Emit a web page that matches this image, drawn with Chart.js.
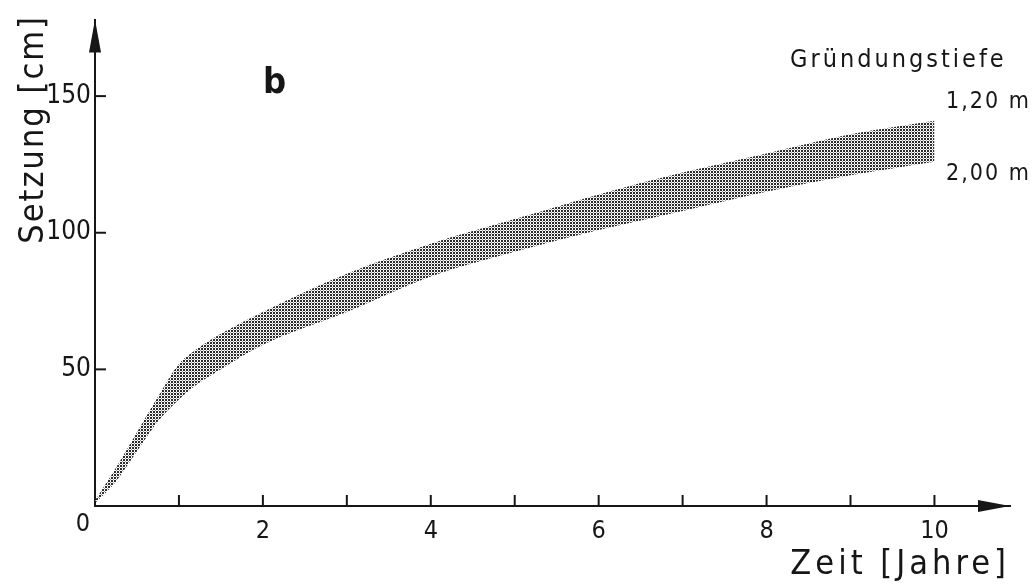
<!DOCTYPE html>
<html>
<head>
<meta charset="utf-8">
<script src="https://cdn.jsdelivr.net/npm/chart.js@4/dist/chart.umd.min.js"></script>
<style>
  html, body { margin: 0; padding: 0; background: #fff; }
  #wrap { width: 1034px; height: 584px; }
</style>
</head>
<body>
<div id="wrap"><canvas id="chart"></canvas></div>
<script>
// Zeit [Jahre]
const years = [0, 0.25, 0.5, 0.75, 1, 1.15, 1.5, 2, 3, 4, 5, 6, 7, 8, 9, 10];
// Setzung [cm] bei Gründungstiefe 1,20 m (obere Kante) und 2,00 m (untere Kante)
const setzung120 = [2, 14, 27, 40, 52, 56, 63, 71, 85, 96, 105, 114, 122, 129, 136, 141];
const setzung200 = [1, 9, 20, 31, 39, 43, 50, 59, 71, 84, 93, 101, 108, 115, 121, 126];
const xTicks = [0, 1, 2, 3, 4, 5, 6, 7, 8, 9, 10];
const xTickLabels = ['', '', '2', '', '4', '', '6', '', '8', '', '10'];
const yTicks = [0, 50, 100, 150];
const yTickLabels = ['', '50', '100', '150'];

const FONT = "'DejaVu Sans Condensed', 'DejaVu Sans', sans-serif";
const INK = '#161616';

function dotPattern() {
    const pc = document.createElement('canvas');
    pc.width = 3;
    pc.height = 3;
    const p = pc.getContext('2d');
    p.fillStyle = '#2a2a2a';
    p.fillRect(0, 0, 2, 2);
    p.fillStyle = '#9a9a9a';
    p.fillRect(2, 2, 1, 1);
    return p.createPattern(pc, 'repeat');
}

function spacedText(ctx, text, x, y, spacing) {
    ctx.letterSpacing = spacing + 'px';
    ctx.fillText(text, x, y);
    ctx.letterSpacing = '0px';
}

const decorations = {
    id: 'decorations',
    afterDraw(chart) {
        const { ctx, chartArea, scales } = chart;
        const xs = scales.x;
        const ys = scales.y;
        const x0 = xs.getPixelForValue(0);
        const y0 = ys.getPixelForValue(0);
        ctx.save();
        ctx.strokeStyle = INK;
        ctx.fillStyle = INK;
        ctx.lineWidth = 2;

        // inward tick marks
        xTicks.slice(1).forEach((v) => {
            const px = xs.getPixelForValue(v);
            ctx.beginPath();
            ctx.moveTo(px, y0);
            ctx.lineTo(px, y0 - 11);
            ctx.stroke();
        });
        yTicks.slice(1).forEach((v) => {
            const py = ys.getPixelForValue(v);
            ctx.beginPath();
            ctx.moveTo(x0, py);
            ctx.lineTo(x0 + 11, py);
            ctx.stroke();
        });

        // arrow heads
        ctx.beginPath();
        ctx.moveTo(x0, chartArea.top);
        ctx.lineTo(x0 - 6, chartArea.top + 33);
        ctx.lineTo(x0 + 6, chartArea.top + 33);
        ctx.closePath();
        ctx.fill();
        ctx.beginPath();
        ctx.moveTo(chartArea.right, y0);
        ctx.lineTo(chartArea.right - 32, y0 - 6);
        ctx.lineTo(chartArea.right - 32, y0 + 6);
        ctx.closePath();
        ctx.fill();

        // origin label
        ctx.font = '25px ' + FONT;
        ctx.textAlign = 'right';
        ctx.textBaseline = 'top';
        ctx.fillText('0', x0 - 5, y0 + 6);

        // axis titles
        ctx.font = '34px ' + FONT;
        ctx.textAlign = 'right';
        ctx.textBaseline = 'alphabetic';
        spacedText(ctx, 'Zeit [Jahre]', 1010, 574, 4);

        ctx.save();
        ctx.translate(43, 15);
        ctx.rotate(-Math.PI / 2);
        ctx.textAlign = 'right';
        spacedText(ctx, 'Setzung [cm]', 0, 0, 2);
        ctx.restore();

        // panel letter and depth labels
        ctx.textAlign = 'left';
        ctx.font = 'bold 36px ' + FONT;
        ctx.fillText('b', 263, 93);
        ctx.font = '25px ' + FONT;
        spacedText(ctx, 'Gründungstiefe', 790, 67, 3);
        ctx.font = '23px ' + FONT;
        spacedText(ctx, '1,20 m', 946, 108, 2);
        spacedText(ctx, '2,00 m', 946, 180, 2);
        ctx.restore();
    },
};

const canvas = document.getElementById('chart');
const ctx = canvas.getContext('2d');

new Chart(ctx, {
    type: 'line',
    data: {
        datasets: [
            {
                label: '1,20 m',
                data: years.map((x, i) => ({ x, y: setzung120[i] })),
                borderWidth: 0,
                pointRadius: 0,
                cubicInterpolationMode: 'monotone',
                backgroundColor: dotPattern(),
                fill: '+1',
            },
            {
                label: '2,00 m',
                data: years.map((x, i) => ({ x, y: setzung200[i] })),
                borderWidth: 0,
                pointRadius: 0,
                cubicInterpolationMode: 'monotone',
                fill: false,
            },
        ],
    },
    options: {
        responsive: true,
        maintainAspectRatio: false,
        animation: false,
        events: [],
        layout: { padding: { top: 10, right: 24, left: 0, bottom: 0 } },
        plugins: {
            legend: { display: false },
            tooltip: { enabled: false },
        },
        scales: {
            x: {
                type: 'linear',
                min: 0,
                max: 10.9,
                afterFit: (scale) => { scale.height = 78; },
                afterBuildTicks: (scale) => { scale.ticks = xTicks.map((v) => ({ value: v })); },
                grid: { display: false, drawTicks: false },
                border: { display: true, color: INK, width: 2 },
                ticks: {
                    color: INK,
                    padding: 10,
                    maxRotation: 0,
                    autoSkip: false,
                    font: { family: FONT, size: 25 },
                    callback: (v) => xTickLabels[xTicks.indexOf(v)] ?? '',
                },
            },
            y: {
                type: 'linear',
                min: 0,
                max: 178,
                afterFit: (scale) => { scale.width = 95; },
                afterBuildTicks: (scale) => { scale.ticks = yTicks.map((v) => ({ value: v })); },
                grid: { display: false, drawTicks: false },
                border: { display: true, color: INK, width: 2 },
                ticks: {
                    color: INK,
                    padding: 4,
                    autoSkip: false,
                    font: { family: FONT, size: 26 },
                    callback: (v) => yTickLabels[yTicks.indexOf(v)] ?? '',
                },
            },
        },
    },
    plugins: [decorations],
});
</script>
</body>
</html>
